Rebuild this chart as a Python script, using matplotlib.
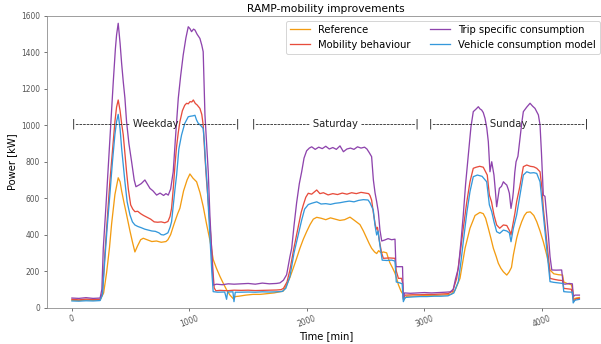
import matplotlib
matplotlib.use("Agg")
import matplotlib.pyplot as plt

# load profiles over three days (minutes), sampled where the curves bend
ref_t = [0, 60, 120, 180, 240, 270, 295, 320, 338, 366, 394, 410, 423, 445, 465, 494, 515, 536, 560, 585,
         607, 640, 680, 720, 760, 800, 817, 840, 870, 900, 919, 950, 980, 1004, 1030, 1061, 1090, 1117, 1145,
         1174, 1203, 1230, 1260, 1290, 1317, 1345, 1373, 1390, 1420, 1480, 1540, 1600, 1660, 1720, 1780, 1798,
         1827, 1855, 1883, 1912, 1940, 1969, 1997, 2026, 2054, 2083, 2120, 2160, 2200, 2240, 2280, 2320, 2366,
         2400, 2451, 2480, 2508, 2530, 2550, 2575, 2593, 2610, 2630, 2650, 2678, 2692, 2706, 2730, 2749, 2763,
         2778, 2800, 2815, 2822, 2850, 2900, 2960, 3020, 3080, 3140, 3200, 3230, 3260, 3302, 3345, 3387, 3430,
         3472, 3500, 3520, 3543, 3565, 3586, 3610, 3628, 3650, 3671, 3700, 3720, 3740, 3756, 3784, 3805, 3827,
         3850, 3870, 3900, 3930, 3955, 3983, 4011, 4040, 4068, 4100, 4140, 4175, 4185, 4220, 4250, 4262, 4270,
         4290, 4318]
ref_p = [40, 38, 42, 40, 42, 80, 190, 330, 460, 620, 712, 690, 640, 570, 510, 420, 360, 305, 340, 372,
         380, 372, 362, 365, 358, 362, 372, 400, 460, 515, 545, 640, 700, 733, 710, 690, 630, 555, 460,
         370, 262, 215, 170, 130, 96, 68, 48, 60, 62, 68, 72, 72, 76, 80, 88, 90,
         123, 165, 215, 270, 325, 375, 416, 455, 485, 495, 490, 482, 492, 485, 478, 482, 496,
         480, 455, 420, 380, 350, 325, 305, 296, 312, 300, 305, 300, 270, 245, 215, 188, 160,
         125, 90, 75, 42, 62, 62, 64, 66, 66, 68, 70, 74, 95, 160, 325, 435, 505,
         522, 515, 490, 435, 380, 325, 280, 243, 215, 196, 178, 195, 220, 288, 380, 430, 471,
         505, 522, 525, 505, 471, 420, 361, 288, 206, 185, 180, 178, 140, 130, 125, 90, 45,
         52, 55]

mob_t = [0, 60, 120, 180, 240, 260, 281, 300, 323, 345, 366, 380, 394, 410, 423, 437, 450, 465, 480, 500,
         518, 536, 560, 585, 610, 640, 670, 700, 730, 760, 790, 817, 835, 848, 862, 877, 890, 905, 919, 940,
         960, 976, 990, 1005, 1020, 1033, 1050, 1065, 1089, 1105, 1117, 1130, 1145, 1160, 1175, 1189, 1200,
         1211, 1225, 1260, 1320, 1380, 1440, 1500, 1560, 1620, 1680, 1740, 1780, 1800, 1830, 1855, 1890, 1926,
         1950, 1969, 1990, 2011, 2040, 2083, 2110, 2140, 2180, 2220, 2260, 2300, 2340, 2380, 2420, 2460, 2500,
         2525, 2536, 2550, 2565, 2579, 2590, 2600, 2615, 2635, 2650, 2700, 2749, 2760, 2778, 2805, 2815, 2822,
         2835, 2900, 2960, 3020, 3080, 3140, 3200, 3240, 3274, 3300, 3330, 3360, 3387, 3415, 3440, 3470, 3500,
         3534, 3552, 3570, 3591, 3614, 3640, 3671, 3700, 3728, 3736, 3756, 3770, 3784, 3810, 3841, 3870, 3900,
         3930, 3955, 3983, 4000, 4011, 4040, 4060, 4068, 4100, 4140, 4175, 4185, 4220, 4250, 4262, 4270, 4290,
         4318]
mob_p = [45, 42, 46, 44, 45, 80, 300, 480, 690, 860, 1020, 1100, 1139, 1080, 1010, 947, 850, 745, 650, 563,
         540, 526, 528, 515, 505, 495, 485, 470, 468, 470, 465, 472, 500, 544, 650, 782, 880, 960, 1020, 1080,
         1110, 1121, 1118, 1130, 1128, 1139, 1120, 1112, 1093, 1060, 1002, 850, 700, 581, 450, 327, 200,
         107, 92, 94, 92, 95, 94, 95, 93, 94, 95, 96, 98, 105, 140, 206, 330, 444,
         520, 563, 605, 627, 622, 645, 625, 630, 618, 625, 620, 628, 622, 630, 625, 632, 628,
         625, 615, 590, 520, 462, 430, 440, 370, 300, 270, 272, 270, 200, 160, 160, 130, 50,
         68, 70, 70, 72, 72, 74, 76, 90, 160, 280, 435, 580, 690, 764, 770, 775, 770,
         727, 617, 581, 508, 453, 435, 453, 450, 416, 398, 471, 520, 581, 660, 773, 782, 775,
         772, 764, 745, 650, 544, 361, 240, 160, 155, 150, 148, 105, 102, 100, 60, 35, 48,
         50]

trip_t = [0, 60, 120, 180, 240, 255, 267, 290, 310, 330, 352, 370, 380, 394, 410, 423, 437, 451, 465, 485,
          508, 530, 545, 570, 590, 621, 640, 664, 690, 721, 750, 780, 800, 820, 840, 862, 880, 905, 925, 947,
          970, 990, 1005, 1018, 1035, 1047, 1065, 1089, 1105, 1117, 1132, 1146, 1160, 1174, 1190, 1202, 1230,
          1280, 1330, 1380, 1440, 1500, 1560, 1620, 1680, 1740, 1770, 1800, 1827, 1855, 1870, 1890, 1912, 1935,
          1955, 1975, 1997, 2020, 2040, 2070, 2100, 2130, 2160, 2190, 2220, 2250, 2281, 2310, 2340, 2370, 2400,
          2430, 2460, 2490, 2510, 2530, 2550, 2565, 2579, 2593, 2607, 2621, 2636, 2660, 2690, 2720, 2749, 2757,
          2790, 2813, 2820, 2830, 2880, 2940, 3000, 3060, 3120, 3180, 3220, 3245, 3265, 3288, 3310, 3330, 3350,
          3373, 3395, 3415, 3440, 3458, 3472, 3486, 3500, 3515, 3530, 3543, 3557, 3572, 3591, 3603, 3614, 3625,
          3637, 3655, 3671, 3686, 3700, 3712, 3722, 3736, 3750, 3756, 3768, 3779, 3795, 3813, 3827, 3841, 3870,
          3898, 3920, 3940, 3969, 3983, 3995, 4011, 4025, 4040, 4054, 4068, 4083, 4120, 4167, 4180, 4196, 4230,
          4258, 4266, 4280, 4318]
trip_p = [52, 50, 54, 50, 52, 100, 325, 560, 782, 1010, 1239, 1420, 1496, 1560, 1450, 1340, 1239, 1150, 1020, 900,
          800, 700, 663, 672, 680, 700, 680, 654, 640, 617, 628, 615, 625, 617, 650, 745, 920, 1148, 1270, 1386,
          1480, 1541, 1530, 1514, 1528, 1523, 1500, 1477, 1440, 1404, 1057, 900, 745, 508, 300, 123, 128,
          125, 130, 128, 130, 132, 128, 134, 130, 132, 135, 150, 180, 279, 325, 450, 575, 680,
          745, 820, 860, 875, 882, 868, 880, 872, 885, 870, 878, 868, 887, 855, 870, 875, 868,
          882, 875, 880, 870, 850, 828, 700, 630, 581, 526, 425, 365, 370, 378, 372, 375, 224,
          224, 224, 45, 80, 78, 80, 82, 80, 82, 84, 86, 100, 160, 215, 360, 508, 680,
          837, 990, 1075, 1090, 1102, 1090, 1084, 1070, 1038, 985, 910, 745, 800, 727, 640, 553, 600,
          654, 665, 690, 680, 672, 650, 627, 544, 600, 636, 740, 800, 830, 929, 1010, 1075, 1100,
          1121, 1105, 1093, 1057, 1002, 850, 617, 610, 500, 398, 280, 206, 205, 206, 130, 128, 132,
          130, 60, 68, 68]

veh_t = [0, 60, 120, 180, 240, 260, 281, 300, 323, 345, 366, 380, 394, 410, 423, 437, 451, 470, 494, 515,
         536, 560, 590, 620, 650, 680, 710, 740, 760, 780, 800, 817, 835, 848, 862, 877, 891, 910, 933, 960,
         990, 1010, 1030, 1047, 1060, 1075, 1095, 1117, 1128, 1138, 1150, 1160, 1175, 1190, 1202, 1240, 1300,
         1316, 1325, 1370, 1379, 1390, 1440, 1500, 1560, 1620, 1680, 1740, 1790, 1820, 1855, 1890, 1926, 1955,
         1980, 2011, 2040, 2083, 2120, 2160, 2200, 2240, 2280, 2320, 2360, 2400, 2440, 2480, 2520, 2536, 2564,
         2579, 2593, 2605, 2621, 2640, 2680, 2720, 2749, 2760, 2790, 2810, 2820, 2835, 2900, 2960, 3020, 3080,
         3140, 3200, 3250, 3288, 3310, 3330, 3360, 3387, 3415, 3450, 3490, 3529, 3552, 3572, 3591, 3614, 3640,
         3671, 3700, 3722, 3736, 3756, 3784, 3812, 3841, 3870, 3900, 3930, 3955, 3983, 4011, 4040, 4068, 4100,
         4140, 4178, 4185, 4220, 4258, 4265, 4280, 4318]
veh_p = [36, 35, 37, 36, 38, 70, 270, 440, 620, 800, 950, 1020, 1060, 980, 874, 780, 690, 580, 508, 470,
         453, 445, 438, 430, 425, 420, 418, 410, 400, 398, 404, 410, 440, 471, 560, 650, 727, 870, 947, 1010,
         1047, 1050, 1052, 1055, 1030, 1011, 1000, 983, 900, 782, 680, 563, 380, 200, 87, 84, 85,
         45, 85, 86, 32, 84, 84, 85, 84, 86, 85, 86, 88, 105, 170, 300, 400, 480,
         540, 565, 572, 580, 568, 570, 566, 572, 575, 580, 584, 580, 588, 592, 590, 575, 535,
         450, 398, 420, 340, 260, 258, 260, 255, 140, 135, 130, 32, 55, 58, 60, 60, 62,
         62, 64, 80, 142, 250, 361, 520, 636, 718, 727, 720, 690, 563, 526, 471, 416, 407,
         425, 420, 410, 361, 435, 508, 617, 727, 745, 738, 740, 736, 690, 508, 325, 142, 138,
         135, 132, 87, 85, 84, 25, 40, 45]

labels = ['Reference', 'Mobility behaviour', 'Trip specific consumption', 'Vehicle consumption model']
colors = ['#f39c12', '#e74c3c', '#8e44ad', '#3498db']

day_names = ['Weekday', 'Saturday', 'Sunday']
day_centers = [716, 2238, 3712]

fig = plt.figure(figsize=(601 / 72, 344 / 72), dpi=72)
ax = fig.add_axes([0.0774, 0.1061, 0.9293, 0.8474])

series = [(ref_t, ref_p), (mob_t, mob_p), (trip_t, trip_p), (veh_t, veh_p)]
for (t, p), lab, c in zip(series, labels, colors):
    ax.plot(t, p, color=c, lw=1.3, label=lab)

# day separators written as dashed text
for name, xc in zip(day_names, day_centers):
    ax.text(xc, 1010, '|' + '-' * 15 + ' ' + name + ' ' + '-' * 15 + '|',
            ha='center', va='center', fontsize=10, color='#222222')

ax.set_xlim(-216, 4536)
ax.set_ylim(0, 1600)
ax.set_title('RAMP-mobility improvements', fontsize=10.6, pad=4)
ax.set_xlabel('Time [min]', fontsize=10, labelpad=2)
ax.set_ylabel('Power [kW]', fontsize=10)

ax.tick_params(axis='both', labelsize=7.5, colors='#555555', length=3)
ax.tick_params(axis='x', labelrotation=20)
for s in ax.spines.values():
    s.set_color('#888888')

ax.legend(loc='upper right', ncol=2, fontsize=10, handlelength=2, columnspacing=2.0)

fig.savefig('out.png', dpi=72)
